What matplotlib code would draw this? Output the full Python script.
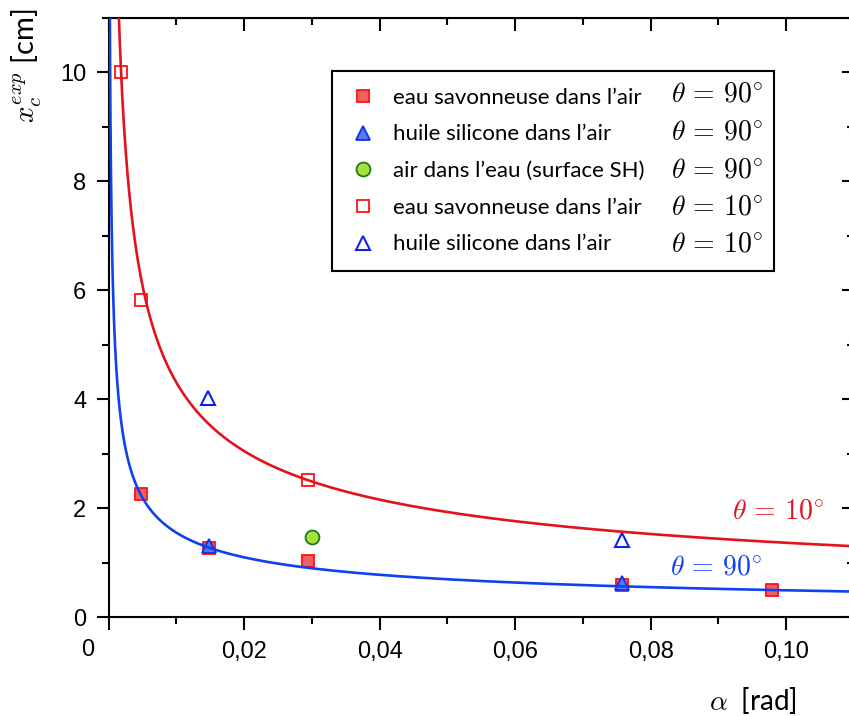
import numpy as np
import matplotlib
matplotlib.use("Agg")
import matplotlib.pyplot as plt
from matplotlib.lines import Line2D
from matplotlib.ticker import MultipleLocator, FuncFormatter

plt.rcParams['mathtext.fontset'] = 'cm'
plt.rcParams['font.family'] = ['Liberation Sans', 'DejaVu Sans']

# --- données expérimentales (alpha en rad, x_c en cm) ---
savon90_alpha = [0.0048, 0.0149, 0.0294, 0.0757, 0.0979]
savon90_xc = [2.26, 1.27, 1.02, 0.59, 0.50]

huile90_alpha = [0.0148, 0.0757]
huile90_xc = [1.31, 0.63]

air90_alpha = [0.0301]
air90_xc = [1.47]

savon10_alpha = [0.0018, 0.0048, 0.0294]
savon10_xc = [10.0, 5.83, 2.52]

huile10_alpha = [0.0147, 0.0757]
huile10_xc = [4.03, 1.42]

# courbes théoriques x_c = K / sqrt(alpha)
K_10 = 0.431
K_90 = 0.155

legend_labels = ['eau savonneuse dans l\u2019air', 'huile silicone dans l\u2019air',
                 'air dans l\u2019eau (surface SH)', 'eau savonneuse dans l\u2019air',
                 'huile silicone dans l\u2019air']
TH90 = r'$\theta\,=\,90^{\circ}$'
TH10 = r'$\theta\,=\,10^{\circ}$'
legend_angles = [TH90, TH90, TH90, TH10, TH10]

RED = '#e3121b'
BLUE = '#1040f0'

fig = plt.figure(figsize=(8.49, 7.16), dpi=100)
ax = fig.add_axes([108.5 / 849, 99 / 716, 745.5 / 849, 599 / 716])

a = np.linspace(1e-5, 0.112, 4000)
ax.plot(a, K_10 / np.sqrt(a), color=RED, lw=1.9, zorder=4)
ax.plot(a, K_90 / np.sqrt(a), color=BLUE, lw=1.9, zorder=4)

ax.plot(savon90_alpha, savon90_xc, 's', ms=9, mfc='#f26060', mec='#ff1010', mew=1.3, zorder=3)
ax.plot(huile90_alpha, huile90_xc, '^', ms=10, mfc='#5a78f0', mec='#1030f0', mew=1.3, zorder=3)
ax.plot(air90_alpha, air90_xc, 'o', ms=10, mfc='#a8e040', mec='#1a7a1a', mew=1.3, zorder=3)
ax.plot(savon10_alpha, savon10_xc, 's', ms=9, mfc='white', mec='#ff1010', mew=1.3, zorder=3)
ax.plot(huile10_alpha, huile10_xc, '^', ms=10, mfc='white', mec='#1020f0', mew=1.5, zorder=3)

ax.set_xlim(0, 0.11)
ax.set_ylim(0, 11)

ax.xaxis.set_major_locator(MultipleLocator(0.02))
ax.xaxis.set_minor_locator(MultipleLocator(0.01))
ax.yaxis.set_major_locator(MultipleLocator(2))
ax.yaxis.set_minor_locator(MultipleLocator(1))
ax.xaxis.set_major_formatter(FuncFormatter(lambda v, p: '' if abs(v) < 1e-9 else ('%.2f' % v).replace('.', ',')))
ax.yaxis.set_major_formatter(FuncFormatter(lambda v, p: '%d' % v))

for s in ax.spines.values():
    s.set_linewidth(1.5)
ax.tick_params(which='both', direction='out', width=1.5, labelsize=17,
               top=False, right=False)
ax.tick_params(which='major', length=9)
ax.tick_params(which='minor', length=5)
ax.tick_params(axis='x', which='major', pad=8)
ax.tick_params(axis='y', which='major', pad=7)
# le "0" de l'axe x est décalé vers la gauche
ax.text((88 - 108.5) / 745.5, (617 - 650) / 599, '0', transform=ax.transAxes,
        fontsize=17, ha='center', va='center')

# ticks internes en haut et à droite
top = ax.secondary_xaxis('top')
top.xaxis.set_major_locator(MultipleLocator(0.02))
top.xaxis.set_minor_locator(MultipleLocator(0.01))
top.tick_params(which='both', direction='in', width=1.5, labeltop=False)
top.tick_params(which='major', length=9)
top.tick_params(which='minor', length=5)
right = ax.secondary_yaxis('right')
right.yaxis.set_major_locator(MultipleLocator(2))
right.yaxis.set_minor_locator(MultipleLocator(1))
right.tick_params(which='both', direction='in', width=1.5, labelright=False)
right.tick_params(which='major', length=9)
right.tick_params(which='minor', length=5)

ax.set_xlabel(r'$\alpha$  [rad]', fontsize=20, family='Lato')
ax.xaxis.set_label_coords((753 - 108.5) / 745.5, (617 - 700) / 599)
ax.xaxis.label.set_va('center')
ax.set_ylabel(r'$x_c^{exp}$ [cm]', fontsize=21, family='Lato')
ax.yaxis.set_label_coords((27 - 108.5) / 745.5, (617 - 66) / 599)
ax.yaxis.label.set_va('center')

ax.text((778 - 108.5) / 6780, (617 - 512) / 54.4, TH10, color=RED, fontsize=20,
        ha='center', va='center')
ax.text((716 - 108.5) / 6780, (617 - 568) / 54.4, TH90, color=BLUE, fontsize=20,
        ha='center', va='center')

handles = [
    Line2D([], [], ls='none', marker='s', ms=9, mfc='#f26060', mec='#ff1010', mew=1.3),
    Line2D([], [], ls='none', marker='^', ms=10, mfc='#5a78f0', mec='#1030f0', mew=1.3),
    Line2D([], [], ls='none', marker='o', ms=10, mfc='#a8e040', mec='#1a7a1a', mew=1.3),
    Line2D([], [], ls='none', marker='s', ms=9, mfc='white', mec='#ff1010', mew=1.3),
    Line2D([], [], ls='none', marker='^', ms=10, mfc='white', mec='#1020f0', mew=1.5),
]
leg_x0 = (332 - 108.5) / 745.5
leg_x1 = (774 - 108.5) / 745.5
leg_y1 = (617 - 71) / 599
leg = ax.legend(handles, legend_labels, loc='upper left',
                bbox_to_anchor=(leg_x0, leg_y1, leg_x1 - leg_x0, 0.0), mode='expand',
                prop={'family': 'Lato', 'size': 16}, frameon=True, fancybox=False,
                edgecolor='black', framealpha=1, borderaxespad=0, borderpad=0.75,
                handlelength=1.3, handletextpad=0.7, labelspacing=0.75)
leg.get_frame().set_linewidth(1.5)
leg.set_zorder(10)

row_y = [95, 132.5, 170, 207.5, 245]
for yy, txt in zip(row_y, legend_angles):
    ax.text((671 - 108.5) / 745.5, (617 - yy) / 599, txt, transform=ax.transAxes,
            fontsize=20, ha='left', va='center', zorder=11)

fig.savefig('out.png', dpi=100)
